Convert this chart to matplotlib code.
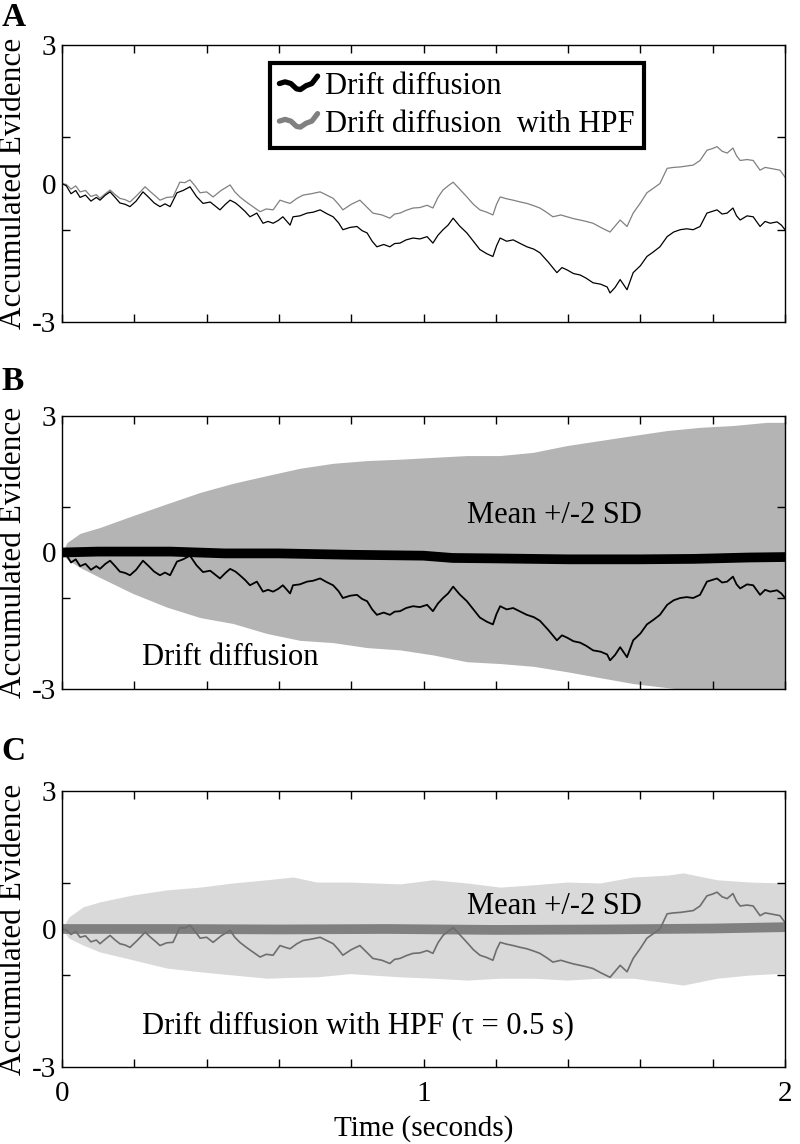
import numpy as np
import matplotlib
matplotlib.use("Agg")
import matplotlib.pyplot as plt
from matplotlib.lines import Line2D
from matplotlib.legend_handler import HandlerLine2D

plt.rcParams['font.family'] = ['Liberation Serif', 'DejaVu Serif']

# drift diffusion trace (panels A and B)
DD_T = [0.000, 0.012, 0.025, 0.038, 0.050, 0.065, 0.080, 0.095, 0.105, 0.120,
        0.133, 0.147, 0.160, 0.175, 0.188, 0.205, 0.224, 0.240, 0.255, 0.271,
        0.285, 0.299, 0.318, 0.335, 0.354, 0.372, 0.390, 0.410, 0.437, 0.452,
        0.465, 0.480, 0.492, 0.506, 0.520, 0.539, 0.556, 0.570, 0.584, 0.598,
        0.611, 0.631, 0.639, 0.658, 0.678, 0.695, 0.714, 0.732, 0.750, 0.765,
        0.777, 0.797, 0.816, 0.830, 0.844, 0.858, 0.871, 0.890, 0.907, 0.920,
        0.935, 0.952, 0.971, 0.990, 1.010, 1.026, 1.040, 1.054, 1.068, 1.082,
        1.100, 1.120, 1.138, 1.156, 1.175, 1.192, 1.202, 1.212, 1.230, 1.248,
        1.268, 1.286, 1.305, 1.322, 1.345, 1.369, 1.383, 1.397, 1.415, 1.433,
        1.450, 1.469, 1.490, 1.508, 1.516, 1.530, 1.544, 1.563, 1.580, 1.600,
        1.618, 1.636, 1.654, 1.674, 1.692, 1.710, 1.728, 1.746, 1.765, 1.784,
        1.800, 1.812, 1.826, 1.840, 1.856, 1.866, 1.876, 1.895, 1.912, 1.931,
        1.945, 1.959, 1.978, 1.990, 2.000]
DD_V = [0.00, -0.05, -0.22, -0.15, -0.30, -0.25, -0.38, -0.30, -0.36, -0.25,
        -0.18, -0.30, -0.42, -0.45, -0.50, -0.38, -0.18, -0.30, -0.42, -0.50,
        -0.44, -0.50, -0.20, -0.15, -0.07, -0.28, -0.43, -0.40, -0.57, -0.45,
        -0.36, -0.42, -0.50, -0.60, -0.72, -0.64, -0.86, -0.82, -0.86, -0.80,
        -0.72, -0.90, -0.72, -0.70, -0.64, -0.62, -0.57, -0.65, -0.72, -0.85,
        -1.00, -0.95, -0.93, -1.02, -1.07, -1.25, -1.37, -1.32, -1.37, -1.30,
        -1.29, -1.22, -1.18, -1.20, -1.15, -1.29, -1.12, -1.00, -0.90, -0.75,
        -0.92, -1.07, -1.25, -1.43, -1.52, -1.58, -1.35, -1.18, -1.25, -1.22,
        -1.30, -1.37, -1.42, -1.50, -1.70, -1.93, -1.82, -1.87, -1.95, -1.98,
        -2.05, -2.15, -2.18, -2.24, -2.37, -2.25, -2.08, -2.30, -1.93, -1.78,
        -1.58, -1.48, -1.37, -1.15, -1.05, -1.00, -0.98, -1.00, -0.93, -0.64,
        -0.60, -0.57, -0.66, -0.64, -0.53, -0.70, -0.79, -0.70, -0.72, -0.93,
        -0.82, -0.86, -0.83, -0.90, -1.00]

# drift diffusion with high-pass filter (panels A and C)
HPF_T = [0.000, 0.012, 0.025, 0.038, 0.050, 0.065, 0.080, 0.095, 0.105, 0.120,
         0.133, 0.147, 0.160, 0.175, 0.188, 0.208, 0.230, 0.245, 0.260, 0.271,
         0.290, 0.307, 0.326, 0.340, 0.354, 0.368, 0.382, 0.400, 0.418, 0.440,
         0.465, 0.478, 0.492, 0.510, 0.528, 0.548, 0.565, 0.584, 0.603, 0.618,
         0.631, 0.650, 0.667, 0.690, 0.714, 0.732, 0.750, 0.765, 0.777, 0.800,
         0.824, 0.842, 0.860, 0.885, 0.907, 0.920, 0.935, 0.952, 0.971, 0.990,
         1.010, 1.026, 1.040, 1.054, 1.068, 1.082, 1.100, 1.120, 1.138, 1.156,
         1.175, 1.192, 1.202, 1.212, 1.230, 1.248, 1.268, 1.286, 1.305, 1.322,
         1.340, 1.358, 1.380, 1.397, 1.415, 1.433, 1.450, 1.469, 1.490, 1.516,
         1.530, 1.544, 1.563, 1.580, 1.600, 1.618, 1.636, 1.654, 1.674, 1.692,
         1.710, 1.728, 1.746, 1.765, 1.784, 1.800, 1.812, 1.826, 1.840, 1.856,
         1.866, 1.876, 1.895, 1.912, 1.931, 1.945, 1.959, 1.986, 2.000]
HPF_V = [0.00, -0.02, -0.12, -0.05, -0.18, -0.15, -0.28, -0.24, -0.32, -0.22,
         -0.14, -0.24, -0.32, -0.35, -0.40, -0.25, -0.07, -0.18, -0.28, -0.36,
         -0.30, -0.29, 0.03, 0.02, 0.08, -0.05, -0.20, -0.18, -0.29, -0.15,
         -0.03, -0.18, -0.29, -0.40, -0.50, -0.61, -0.55, -0.57, -0.36, -0.40,
         -0.43, -0.32, -0.25, -0.22, -0.18, -0.25, -0.32, -0.45, -0.57, -0.45,
         -0.36, -0.50, -0.64, -0.68, -0.75, -0.66, -0.64, -0.58, -0.53, -0.52,
         -0.47, -0.53, -0.30, -0.14, -0.05, 0.03, -0.12, -0.29, -0.45, -0.57,
         -0.62, -0.68, -0.45, -0.29, -0.33, -0.36, -0.40, -0.43, -0.48, -0.53,
         -0.62, -0.72, -0.68, -0.72, -0.76, -0.79, -0.82, -0.86, -0.95, -1.05,
         -0.92, -0.79, -0.93, -0.64, -0.42, -0.20, -0.10, 0.00, 0.33, 0.35,
         0.36, 0.38, 0.40, 0.50, 0.72, 0.76, 0.80, 0.70, 0.66, 0.77,
         0.60, 0.50, 0.52, 0.50, 0.29, 0.35, 0.33, 0.29, 0.14]

# panel B: mean +/- 2 SD of drift diffusion
BAND_B_T = [0.000, 0.014, 0.050, 0.105, 0.196, 0.290, 0.382, 0.473, 0.567, 0.658,
            0.750, 0.844, 0.935, 1.026, 1.120, 1.212, 1.303, 1.397, 1.488, 1.580,
            1.674, 1.765, 1.856, 1.950, 2.000]
BAND_B_HI = [0.00, 0.22, 0.42, 0.55, 0.81, 1.07, 1.32, 1.52, 1.69, 1.85,
             1.96, 2.02, 2.05, 2.09, 2.13, 2.13, 2.20, 2.35, 2.46, 2.57,
             2.68, 2.75, 2.79, 2.86, 2.86]
BAND_B_LO = [0.00, -0.15, -0.33, -0.55, -0.90, -1.20, -1.43, -1.56, -1.78, -1.93,
             -1.98, -2.09, -2.14, -2.25, -2.40, -2.44, -2.50, -2.62, -2.75, -2.88,
             -2.97, -3.05, -3.10, -3.15, -3.18]
MEAN_B_T = [0.0, 0.1, 0.3, 0.45, 0.6, 0.8, 1.0, 1.08, 1.2, 1.4, 1.6, 1.75, 1.9, 2.0]
MEAN_B_V = [0.0, 0.02, 0.02, -0.02, -0.02, -0.05, -0.07, -0.12, -0.13, -0.15,
            -0.15, -0.14, -0.11, -0.10]

# panel C: mean +/- 2 SD with HPF
BAND_C_T = [0.000, 0.019, 0.058, 0.105, 0.196, 0.290, 0.382, 0.473, 0.567, 0.639,
            0.705, 0.796, 0.935, 1.026, 1.120, 1.212, 1.303, 1.397, 1.488, 1.580,
            1.674, 1.718, 1.812, 1.903, 2.000]
BAND_C_HI = [0.00, 0.26, 0.48, 0.59, 0.74, 0.85, 0.91, 1.00, 1.07, 1.13,
             1.02, 1.02, 0.98, 1.07, 1.00, 0.91, 0.96, 1.02, 1.00, 1.13,
             1.17, 1.22, 1.07, 1.02, 1.00]
BAND_C_LO = [0.00, -0.20, -0.35, -0.50, -0.67, -0.85, -0.93, -1.00, -1.07, -1.05,
             -1.04, -0.97, -1.04, -1.07, -1.11, -1.07, -1.07, -1.11, -1.07, -1.07,
             -1.17, -1.22, -1.07, -1.00, -0.96]
MEAN_C_T = [0.0, 0.3, 0.6, 0.9, 1.2, 1.5, 1.8, 2.0]
MEAN_C_V = [0.0, 0.0, -0.01, 0.0, -0.02, -0.01, 0.01, 0.04]

# wiggle shape used for the legend handles
WIGGLE_X = [0.0, 0.15, 0.3, 0.45, 0.55, 0.7, 0.85, 1.0]
WIGGLE_Y = [0.50, 0.58, 0.50, 0.25, 0.22, 0.40, 0.50, 0.85]

BLACK = "#000000"
GRAY = "#808080"
GRAY_C = "#6e6e6e"
BAND_B = "#b4b4b4"
BAND_C = "#d9d9d9"


class WiggleHandler(HandlerLine2D):
    def create_artists(self, legend, orig_handle, xdescent, ydescent,
                       width, height, fontsize, trans):
        xs = -xdescent + width * np.array(WIGGLE_X)
        ys = -ydescent + height * np.array(WIGGLE_Y)
        ln = Line2D(xs, ys, color=orig_handle.get_color(), lw=3.8,
                    solid_capstyle="round", solid_joinstyle="round")
        ln.set_transform(trans)
        return [ln]


def style(ax, show_x):
    ax.set_xlim(0, 2)
    ax.set_ylim(-3, 3)
    ax.set_xticks([0, 1, 2])
    ax.set_xticks([0.2, 0.4, 0.6, 0.8, 1.2, 1.4, 1.6, 1.8], minor=True)
    ax.set_yticks([-3, 0, 3])
    ax.set_yticklabels(["-3", "0", "3"])
    ax.set_yticks([-1, 1], minor=True)
    ax.tick_params(which="both", direction="in", top=True, right=True,
                   length=5.5, width=1.0, labelsize=21)
    ax.tick_params(axis="y", which="major", length=0, pad=4)
    ax.tick_params(axis="x", which="major", pad=10)
    if not show_x:
        ax.set_xticklabels([])
    for s in ax.spines.values():
        s.set_linewidth(1.0)
    ax.text(-0.067, 0.5, "Accumulated Evidence", transform=ax.transAxes,
            rotation=90, ha="center", va="center", fontsize=22.5)


fig = plt.figure(figsize=(8, 11.44), dpi=100)
axA = fig.add_axes([0.0775, 0.7185, 0.90375, 0.2421])
axB = fig.add_axes([0.0775, 0.3977, 0.90375, 0.2387])
axC = fig.add_axes([0.0775, 0.0673, 0.90375, 0.2413])

# A
axA.plot(HPF_T, HPF_V, color=GRAY, lw=0.9)
axA.plot(DD_T, DD_V, color=BLACK, lw=0.9)
style(axA, False)
h1 = Line2D([], [], color=BLACK)
h2 = Line2D([], [], color=GRAY)
leg = axA.legend([h1, h2], ["Drift diffusion", "Drift diffusion  with HPF"],
                 handler_map={Line2D: WiggleHandler()},
                 loc="upper left", bbox_to_anchor=(0.288, 0.935),
                 borderaxespad=0, fontsize=22, handlelength=1.25,
                 handletextpad=0.25, labelspacing=0.28, borderpad=0.3,
                 fancybox=False, framealpha=1, edgecolor=BLACK)
leg.get_frame().set_linewidth(3)

# B
axB.fill_between(BAND_B_T, BAND_B_LO, BAND_B_HI, color=BAND_B, lw=0)
axB.plot(MEAN_B_T, MEAN_B_V, color=BLACK, lw=7)
axB.plot(DD_T, DD_V, color=BLACK, lw=1.3)
axB.text(1.12, 0.82, "Mean +/-2 SD", fontsize=22, va="center", ha="left")
axB.text(0.22, -2.31, "Drift diffusion", fontsize=22, va="center", ha="left")
style(axB, False)

# C
axC.fill_between(BAND_C_T, BAND_C_LO, BAND_C_HI, color=BAND_C, lw=0)
axC.plot(MEAN_C_T, MEAN_C_V, color=GRAY, lw=7)
axC.plot(HPF_T, HPF_V, color=GRAY_C, lw=1.2)
axC.text(1.12, 0.48, "Mean +/-2 SD", fontsize=22, va="center", ha="left")
axC.text(0.22, -2.13, "Drift diffusion with HPF (\u03c4 = 0.5 s)", fontsize=22,
         va="center", ha="left")
style(axC, True)
axC.set_xlabel("Time (seconds)", fontsize=21, labelpad=6)

for lab, yp in [("A", 18), ("B", 381), ("C", 752)]:
    fig.text(0.002, 1 - yp / 1144, lab, fontsize=24, weight="bold",
             ha="left", va="center")

fig.savefig("out.png", dpi=100)
